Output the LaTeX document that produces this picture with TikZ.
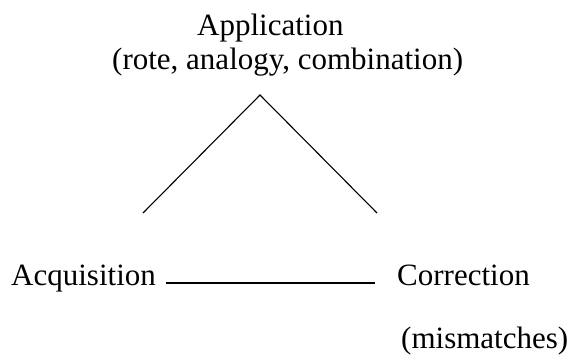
\documentclass[tikz,border=0pt]{standalone}
\usepackage{fontspec}
\setmainfont{Liberation Serif}
\begin{document}
\begin{tikzpicture}[x=1pt,y=-1pt,
  lbl/.style={inner sep=0pt, anchor=base west, font=\fontsize{31}{36}\selectfont},
  edge/.style={line width=1.1pt, black}]
\useasboundingbox (0,0) rectangle (569,361);
\node[lbl] (app) at (197,35) {Application};
\node[lbl] (rote) at (112,69) {(rote, analogy, combination)};
\node[lbl] (acq) at (11,285) {Acquisition};
\node[lbl] (cor) at (397,285) {Correction};
\node[lbl] (mis) at (401,348) {(mismatches)};
\coordinate (apex) at (260,95);
\coordinate (lend) at (143,213);
\coordinate (rend) at (377,213);
\coordinate (hl) at (166,283);
\coordinate (hr) at (375,283);
\draw[edge] (lend) -- (apex) -- (rend);
\draw[edge] (hl) -- (hr);
\end{tikzpicture}
\end{document}
